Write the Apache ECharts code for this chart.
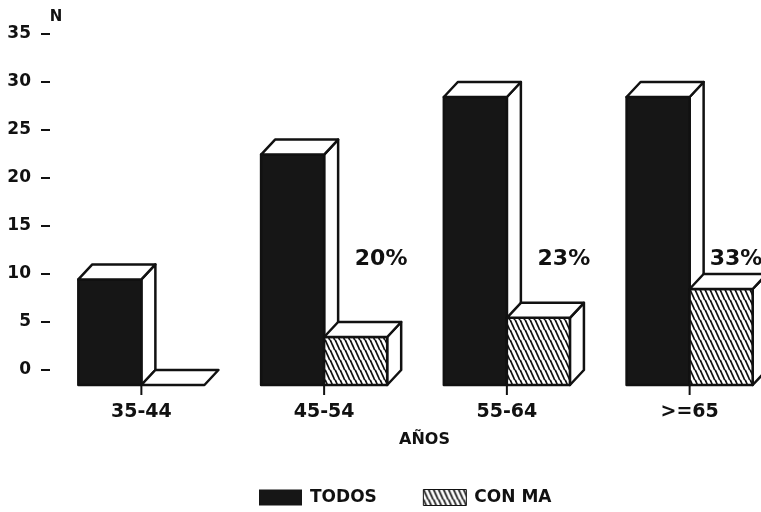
<!DOCTYPE html>
<html>
<head>
<meta charset="utf-8">
<script src="https://cdn.jsdelivr.net/npm/echarts@6/dist/echarts.min.js"></script>
<style>
  html, body { margin: 0; padding: 0; background: #fff; }
  #chart { width: 761px; height: 512px; }
</style>
</head>
<body>
<div id="chart"></div>
<script>
// Age groups and counts
const categories = ['35-44', '45-54', '55-64', '>=65'];
const todos = [11, 24, 30, 30];
const conMa = [0, 5, 7, 10];
const percentLabels = ['', '20%', '23%', '33%'];
const seriesNames = ['TODOS', 'CON MA'];

const FONT = 'DejaVu Sans';
const INK = '#111';
const SOLID = '#161616';
const DX = 14;   // depth offset to the right
const DY = 15;   // depth offset upwards
const BAR_FRAC = 0.345;

// Diagonal hatch used for the "CON MA" bars
function makeHatch() {
  const c = document.createElement('canvas');
  c.width = 5; c.height = 10;
  const g = c.getContext('2d');
  g.fillStyle = '#fff';
  g.fillRect(0, 0, 5, 10);
  g.strokeStyle = '#111';
  g.lineWidth = 1.7;
  [[-5, 0], [0, 0], [5, 0]].forEach(([ox, oy]) => {
    g.beginPath();
    g.moveTo(ox, oy - 0.5);
    g.lineTo(ox + 5, oy + 10.5);
    g.stroke();
  });
  return { image: c, repeat: 'repeat' };
}
const hatch = makeHatch();

function barRenderer(side, fill) {
  return function (params, api) {
    const i = api.value(0);
    const v = api.value(1);
    const top = api.coord([i, v]);
    const base = api.coord([i, 0]);
    const band = api.size([1, 0])[0];
    const w = band * BAR_FRAC;
    const x0 = side === 0 ? top[0] - w : top[0];
    const x1 = x0 + w;
    const yT = top[1] + DY;
    const yB = base[1] + DY;
    const stroke = { stroke: INK, lineWidth: 2.5, lineJoin: 'round' };
    const children = [];
    if (yB - yT > 0.5) {
      children.push({
        type: 'polygon',
        shape: { points: [[x1, yT], [x1 + DX, yT - DY], [x1 + DX, yB - DY], [x1, yB]] },
        style: Object.assign({ fill: '#fff' }, stroke)
      });
      children.push({
        type: 'polygon',
        shape: { points: [[x0, yT], [x1, yT], [x1, yB], [x0, yB]] },
        style: Object.assign({ fill: fill }, stroke)
      });
    }
    children.push({
      type: 'polygon',
      shape: { points: [[x0, yT], [x0 + DX, yT - DY], [x1 + DX, yT - DY], [x1, yT]] },
      style: Object.assign({ fill: '#fff' }, stroke)
    });
    if (side === 0) {
      // category tick under the shared edge
      children.push({
        type: 'line',
        shape: { x1: top[0], y1: yB, x2: top[0], y2: yB + 10 },
        style: { stroke: INK, lineWidth: 2 }
      });
    } else if (percentLabels[i]) {
      const level = api.coord([i, 11.5])[1];
      const cx = Math.min(top[0] + 57, api.getWidth() - 25);
      children.push({
        type: 'text',
        style: {
          text: percentLabels[i], x: cx, y: level,
          align: 'center', verticalAlign: 'middle',
          fill: INK, font: 'bold 22px "' + FONT + '"'
        }
      });
    }
    return { type: 'group', children: children };
  };
}

const chart = echarts.init(document.getElementById('chart'), null, { renderer: 'canvas' });
chart.setOption({
  backgroundColor: '#fff',
  animation: false,
  textStyle: { fontFamily: FONT, color: INK },
  grid: { left: 50, top: 34, bottom: 142, right: -20, outerBoundsMode: 'none', containLabel: false },
  legend: {
    left: 254, top: 484,
    icon: 'rect', itemWidth: 43, itemHeight: 16, itemGap: 46,
    textStyle: { fontFamily: FONT, fontWeight: 'bold', fontSize: 17, color: INK, padding: [0, 0, 0, 3] },
    data: [
      { name: seriesNames[0], itemStyle: { color: SOLID } },
      { name: seriesNames[1], itemStyle: { color: hatch, borderColor: INK, borderWidth: 1 } }
    ]
  },
  xAxis: {
    type: 'category',
    data: categories,
    name: 'AÑOS',
    nameLocation: 'middle',
    nameGap: 62,
    nameTextStyle: { fontFamily: FONT, fontWeight: 'bold', fontSize: 16, color: INK, padding: [0, 0, 0, 18] },
    axisLine: { show: false },
    axisTick: { show: false },
    axisLabel: { margin: 33, fontFamily: FONT, fontWeight: 'bold', fontSize: 19, color: INK }
  },
  yAxis: {
    type: 'value',
    min: 0, max: 35, interval: 5,
    name: 'N',
    nameLocation: 'end',
    nameGap: 9,
    nameTextStyle: { fontFamily: FONT, fontWeight: 'bold', fontSize: 15, color: INK, padding: [0, 0, 0, 12] },
    axisLine: { show: false },
    axisTick: { show: true, length: 9, lineStyle: { color: INK, width: 2 } },
    splitLine: { show: false },
    axisLabel: { margin: 19, fontFamily: FONT, fontWeight: 'bold', fontSize: 17, color: INK }
  },
  series: [
    {
      name: seriesNames[0],
      type: 'custom',
      renderItem: barRenderer(0, SOLID),
      itemStyle: { color: SOLID },
      encode: { x: 0, y: 1 },
      data: todos.map((v, i) => [i, v])
    },
    {
      name: seriesNames[1],
      type: 'custom',
      renderItem: barRenderer(1, hatch),
      itemStyle: { color: hatch },
      encode: { x: 0, y: 1 },
      data: conMa.map((v, i) => [i, v])
    }
  ]
});
</script>
</body>
</html>
